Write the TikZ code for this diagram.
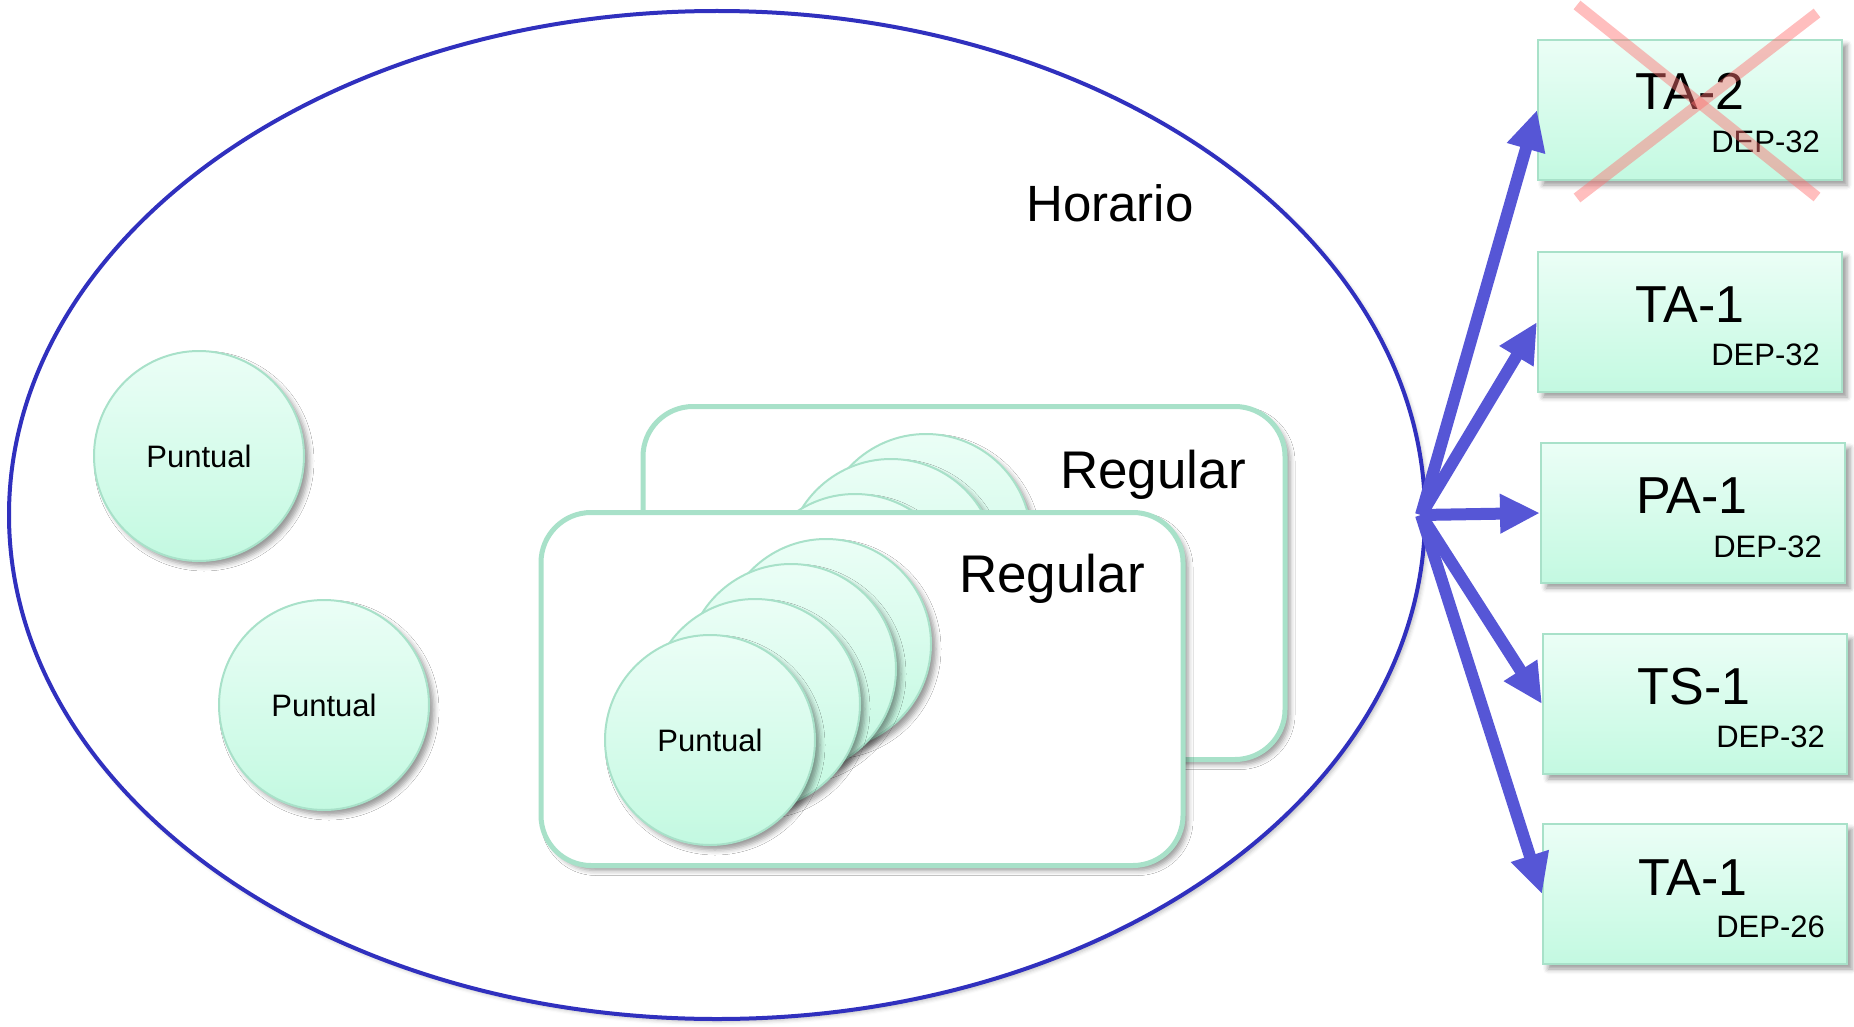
\documentclass[tikz,border=0pt]{standalone}
\usepackage{fontspec}
\setmainfont{Liberation Sans}
\usetikzlibrary{arrows.meta,shapes.geometric,shadows.blur}
\definecolor{gtop}{HTML}{EBFEF6}
\definecolor{gbot}{HTML}{C3F9E1}
\definecolor{gborder}{HTML}{A8E1C9}
\definecolor{arrowblue}{HTML}{5656D6}
\definecolor{ellblue}{HTML}{3030BE}
\definecolor{crossred}{HTML}{FF6F6F}
\begin{document}
\begin{tikzpicture}[x=1pt,y=-1pt,
  softshadow/.style={blur shadow={shadow xshift=5pt,shadow yshift=-5pt,shadow blur radius=5pt,shadow opacity=40}},
  container/.style={ellipse,draw=ellblue,line width=4pt,fill=white,inner sep=0pt,
    minimum width=1416pt,minimum height=1008pt,
    blur shadow={shadow xshift=3pt,shadow yshift=-3pt,shadow blur radius=4pt,shadow opacity=25}},
  tbox/.style={rectangle,draw=gborder,line width=2pt,top color=gtop,bottom color=gbot,
    minimum width=304pt,minimum height=140pt,inner sep=0pt,softshadow},
  punto/.style={circle,draw=gborder,line width=2pt,top color=gtop,bottom color=gbot,
    minimum size=210pt,inner sep=0pt,softshadow,font=\fontsize{31}{36}\selectfont},
  card/.style={rectangle,rounded corners=50pt,draw=gborder,line width=5pt,fill=white,
    minimum width=642pt,minimum height=353pt,inner sep=0pt,softshadow},
  bigtxt/.style={anchor=base,inner sep=0pt,font=\fontsize{52}{60}\selectfont},
  deptxt/.style={anchor=base east,inner sep=0pt,font=\fontsize{31}{36}\selectfont},
  regtxt/.style={anchor=base,inner sep=0pt,font=\fontsize{53}{60}\selectfont},
  arr/.style={draw=arrowblue,line width=12pt,line cap=butt,
    -{Triangle[length=40pt,width=37pt]},fill=arrowblue},
  crossline/.style={draw=crossred,line width=11pt,opacity=0.45}
]
\useasboundingbox (0,0) rectangle (1854,1027);

% container
\node[container] (horario) at (717,515) {};
\node[anchor=base,inner sep=0pt,font=\fontsize{51}{60}\selectfont] (horariotxt) at (1110,221) {Horario};

% standalone puntual circles
\node[punto] (p1) at (199,456) {Puntual};
\node[punto] (p2) at (324,705) {Puntual};

% back card
\node[card] (cardback) at (964,583) {};
\node[punto] (b4) at (926,539) {};
\node[punto] (b3) at (891,564) {};
\node[punto] (b2) at (855,599) {};
\node[punto] (b1) at (810,635) {};
\node[regtxt] (regback) at (1153,488) {Regular};

% front card
\node[card] (cardfront) at (862,689) {};
\node[punto] (f4) at (826,644) {};
\node[punto] (f3) at (791,669) {};
\node[punto] (f2) at (755,704) {};
\node[punto] (f1) at (710,740) {Puntual};
\node[regtxt] (regfront) at (1052,592) {Regular};

% target boxes
\node[tbox] (ta2) at (1690,110) {};
\node[bigtxt] (ta2t) at (1690,110) {TA-2};
\node[deptxt] (ta2d) at (1820,153) {DEP-32};

\node[tbox] (ta1) at (1690,322) {};
\node[bigtxt] (ta1t) at (1690,322) {TA-1};
\node[deptxt] (ta1d) at (1820,365) {DEP-32};

\node[tbox] (pa1) at (1693,513) {};
\node[bigtxt] (pa1t) at (1692,513) {PA-1};
\node[deptxt] (pa1d) at (1822,557) {DEP-32};

\node[tbox] (ts1) at (1695,704) {};
\node[bigtxt] (ts1t) at (1694,704) {TS-1};
\node[deptxt] (ts1d) at (1825,747) {DEP-32};

\node[tbox] (ta1b) at (1695,894) {};
\node[bigtxt] (ta1bt) at (1693,895) {TA-1};
\node[deptxt] (ta1bd) at (1825,937) {DEP-26};

% arrows
\coordinate (hub) at (1421,515);
\draw[arr] (hub) -- (ta2.west);
\draw[arr] (hub) -- (ta1.west);
\draw[arr] (hub) -- (pa1.west);
\draw[arr] (hub) -- (ts1.west);
\draw[arr] (hub) -- (ta1b.west);

% cross over TA-2
\coordinate (c1a) at (1577,5);
\coordinate (c1b) at (1817,197);
\coordinate (c2a) at (1817,13);
\coordinate (c2b) at (1577,198);
\draw[crossline] (c1a) -- (c1b);
\draw[crossline] (c2a) -- (c2b);
\end{tikzpicture}
\end{document}
